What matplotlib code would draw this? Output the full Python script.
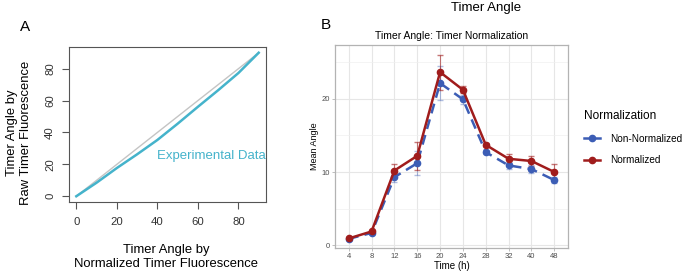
import matplotlib
matplotlib.use("Agg")
import matplotlib.pyplot as plt
from matplotlib.lines import Line2D
import numpy as np

plt.rcParams['font.family'] = ['Liberation Sans', 'DejaVu Sans']

# Panel A data
norm_angle = [0, 10, 20, 30, 40, 50, 60, 70, 80, 90]
raw_angle = [0, 8.5, 17.7, 26.3, 35.3, 45.5, 56.1, 66.5, 77.3, 90]
identity = [0, 90]

# Panel B data
time_labels = ['4', '8', '12', '16', '20', '24', '28', '32', '40', '48']
normalized = [0.95, 1.9, 10.2, 12.2, 23.6, 21.2, 13.7, 11.8, 11.5, 10.0]
normalized_err = [0.1, 0.1, 0.9, 1.9, 2.4, 0.5, 0.2, 0.7, 0.7, 1.1]
non_normalized = [0.9, 1.7, 9.3, 11.2, 22.1, 19.9, 12.7, 10.9, 10.4, 8.9]
non_normalized_err = [0.1, 0.1, 0.6, 1.6, 2.3, 0.6, 0.3, 0.5, 0.6, 0.4]

W, H = 685, 271
fig = plt.figure(figsize=(W/100, H/100), dpi=100)

def ax_rect(l, t, r, b):
    return [l/W, 1 - b/H, (r-l)/W, (b-t)/H]

# ---- Panel A ----
axA = fig.add_axes(ax_rect(69, 47, 266, 202))
axA.plot(identity, identity, color='#C4C4C4', lw=1.0)
axA.plot(norm_angle, raw_angle, color='#45B3CB', lw=1.8)
axA.set_xlim(-3.6, 93.6)
axA.set_ylim(-3.6, 93.6)
axA.set_xticks([0, 20, 40, 60, 80])
axA.set_yticks([0, 20, 40, 60, 80])
for s in axA.spines.values():
    s.set_color('#555555')
    s.set_linewidth(0.8)
axA.tick_params(axis='both', colors='#555555', labelcolor='#333333', labelsize=8.2, length=5, width=0.8)
axA.tick_params(axis='x', pad=6)
axA.tick_params(axis='y', pad=5)
for lab in axA.get_yticklabels():
    lab.set_rotation(90)
    lab.set_va('center')
axA.text(0.447, 0.30, 'Experimental Data', color='#45B3CB', fontsize=9.5, transform=axA.transAxes, ha='left', va='center')
fig.text(166/W, 1 - 257/H, 'Timer Angle by\nNormalized Timer Fluorescence', ha='center', va='center', fontsize=9.4, linespacing=1.2)
fig.text(19/W, 1 - 133/H, 'Timer Angle by\nRaw Timer Fluorescence', ha='center', va='center', fontsize=9.4, rotation=90, linespacing=1.2)
fig.text(25/W, 1 - 27/H, 'A', ha='center', va='center', fontsize=11)

# ---- Panel B ----
axB = fig.add_axes(ax_rect(335, 45, 568, 248))
x = np.arange(1, len(time_labels) + 1)
axB.set_facecolor('white')
blue = '#3C5DB5'
red = '#A01C1C'
axB.errorbar(x, non_normalized, yerr=non_normalized_err, fmt='none', capsize=2.5, elinewidth=0.8,
             ecolor=blue, alpha=0.4, zorder=2)
axB.errorbar(x, normalized, yerr=normalized_err, fmt='none', capsize=2.5, elinewidth=0.8,
             ecolor=red, alpha=0.6, zorder=2)
axB.plot(x, non_normalized, color=blue, lw=1.8, ls=(0, (4, 2.5)), marker='o', ms=4.5, zorder=3)
axB.plot(x, normalized, color=red, lw=1.8, ls='-', marker='o', ms=4.5, zorder=4)
axB.set_xlim(0.4, 10.6)
axB.set_ylim(-0.35, 27.3)
axB.set_xticks(x)
axB.set_xticklabels(time_labels)
axB.set_yticks([0, 10, 20])
axB.set_yticks([5, 15, 25], minor=True)
axB.grid(True, which='major', color='#E6E6E6', lw=0.8)
axB.grid(True, which='minor', axis='y', color='#F0F0F0', lw=0.5)
axB.set_axisbelow(True)
for s in axB.spines.values():
    s.set_color('#B3B3B3')
    s.set_linewidth(0.9)
axB.tick_params(axis='both', which='major', colors='#B3B3B3', labelcolor='#4D4D4D', labelsize=5.5, length=2, width=0.6, pad=1.5)
axB.tick_params(axis='both', which='minor', length=0)
axB.set_xlabel('Time (h)', fontsize=7, labelpad=1)
axB.set_ylabel('Mean Angle', fontsize=6.5, labelpad=2)
axB.set_title('Timer Angle: Timer Normalization', fontsize=7.5, pad=4)

handles = [Line2D([], [], color=blue, lw=1.8, marker='o', ms=4.5),
           Line2D([], [], color=red, lw=1.8, marker='o', ms=4.5)]
leg = fig.legend(handles=handles, labels=['Non-Normalized', 'Normalized'],
                 title='Normalization', loc='upper left', bbox_to_anchor=(580/W, 1 - 106/H),
                 frameon=False, fontsize=7.2, title_fontsize=8.5, handlelength=1.6, handletextpad=1.0,
                 labelspacing=1.15, borderaxespad=0)
leg._legend_box.align = 'left'

fig.text(486/W, 1 - 8/H, 'Timer Angle', ha='center', va='center', fontsize=9.5)
fig.text(326/W, 1 - 25/H, 'B', ha='center', va='center', fontsize=11)

fig.savefig('out.png', dpi=100)
